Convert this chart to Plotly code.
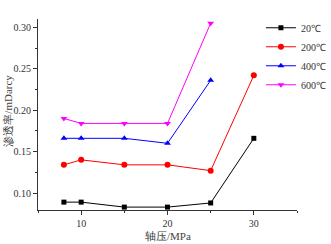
import plotly.graph_objects as go

pressure = [8, 10, 15, 20, 25, 30]
k_20 = [0.089, 0.089, 0.083, 0.083, 0.088, 0.166]
k_200 = [0.134, 0.140, 0.134, 0.134, 0.127, 0.242]
k_400 = [0.166, 0.166, 0.166, 0.160, 0.236]
k_600 = [0.190, 0.184, 0.184, 0.184, 0.305]
names = ["20℃", "200℃", "400℃", "600℃"]
x_title = "轴压/MPa"
y_title = "渗透率/mDarcy"

font = "Liberation Serif"

fig = go.Figure()
styles = [
    (k_20, "black", "square", 5),
    (k_200, "red", "circle", 6),
    (k_400, "blue", "triangle-up", 6),
    (k_600, "magenta", "triangle-down", 6),
]
for (vals, color, sym, sz), name in zip(styles, names):
    fig.add_trace(go.Scatter(
        x=pressure[:len(vals)], y=vals, name=name, mode="lines+markers",
        line=dict(color=color, width=1),
        marker=dict(symbol=sym, size=sz, color=color),
    ))

axis_common = dict(
    showgrid=False, zeroline=False, showline=True, linecolor="#333", linewidth=1,
    ticks="outside", ticklen=4, tickcolor="#333",
    tickfont=dict(family=font, size=10, color="#333"),
    minor=dict(ticks="outside", ticklen=2, tickcolor="#333"),
)
fig.update_xaxes(range=[5, 35], tickvals=[10, 20, 30], minor_tickvals=[5, 15, 25, 35],
                 **axis_common)
fig.update_yaxes(range=[0.0795, 0.31], tickvals=[0.10, 0.15, 0.20, 0.25, 0.30],
                 tickformat=".2f", minor_tickvals=[0.125, 0.175, 0.225, 0.275],
                 **axis_common)

fig.add_annotation(text=x_title, xref="paper", yref="paper", x=0.5, y=-0.136,
                   xanchor="center", yanchor="middle", showarrow=False,
                   font=dict(family=font, size=11, color="#444"))
fig.add_annotation(text=y_title, xref="paper", yref="paper", x=-0.116, y=0.52,
                   xanchor="center", yanchor="middle", showarrow=False, textangle=-90,
                   font=dict(family=font, size=11, color="#444"))

fig.update_layout(
    width=331, height=244,
    margin=dict(l=38, r=34, t=19, b=34, autoexpand=False),
    plot_bgcolor="white", paper_bgcolor="white",
    legend=dict(x=1.131, y=1.03, xanchor="right", yanchor="top",
                font=dict(family=font, size=10, color="#333"),
                bgcolor="rgba(0,0,0,0)", itemwidth=30, tracegroupgap=0),
    showlegend=True,
)
fig.write_html("out.html", config={"displayModeBar": False},
               post_script="document.body.style.margin='0';document.body.style.padding='0';")
